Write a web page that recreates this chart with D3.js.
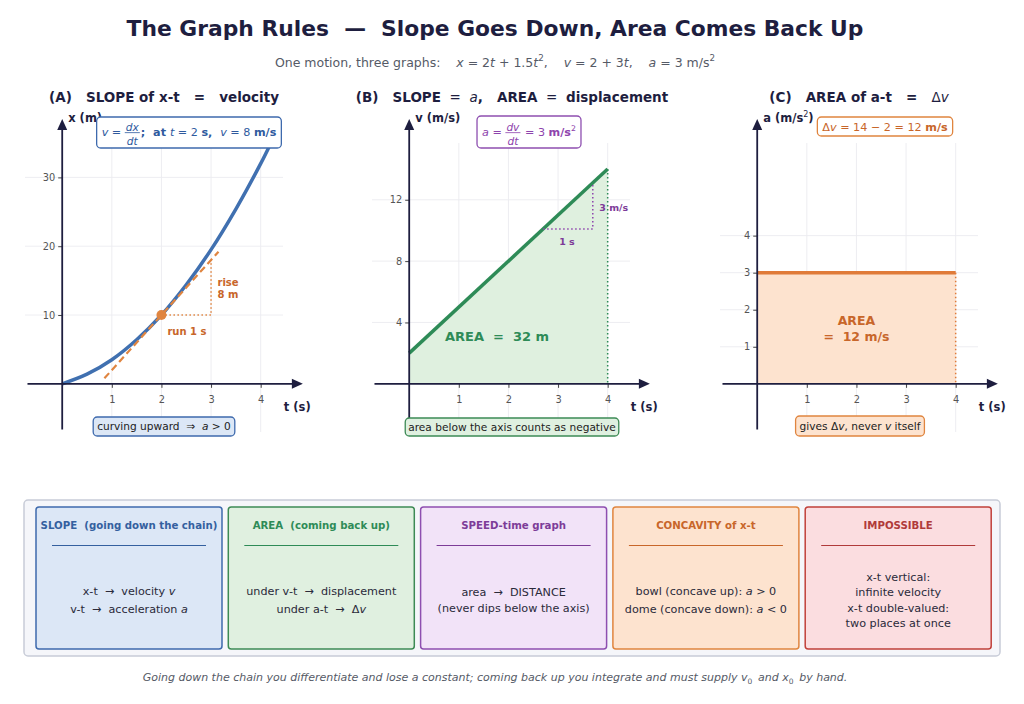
<!DOCTYPE html>
<html lang="en">
<head>
<meta charset="UTF-8">
<title>The Graph Rules</title>
<script src="https://cdn.jsdelivr.net/npm/d3@7"></script>
<style>
  body { margin: 0; background: #fff; }
  svg text { font-family: "DejaVu Sans", sans-serif; white-space: pre; }
</style>
</head>
<body>
<script>
// ---- data ----
const tCurve = [0, 0.5, 1, 1.5, 2, 2.5, 3, 3.5, 4, 4.2];
const xCurve = [0, 1.4, 3.5, 6.4, 10, 14.4, 19.5, 25.4, 32, 34.9];
const tangentT = [0.85, 3.15];
const tangentX = [0.8, 19.2];
const tangentPoint = [2, 10];
const runT = [2, 3, 3];
const runX = [10, 10, 18];

const tLine = [0, 4];
const vLine = [2, 14];
const triT = [2.7, 3.7, 3.7];
const triV = [10.1, 10.1, 13.1];

const aLine = [3, 3];

const tTicks = [1, 2, 3, 4];
const xTicksA = [10, 20, 30];
const vTicksB = [4, 8, 12];
const aTicksC = [1, 2, 3, 4];

const cards = [
  { head: "SLOPE  (going down the chain)", fill: "#dce7f6", stroke: "#3e6aad", color: "#34609f",
    lines: [[["x-t  →  velocity "], ["v", "i"]], [["v-t  →  acceleration "], ["a", "i"]]] },
  { head: "AREA  (coming back up)", fill: "#e0f0e0", stroke: "#3d8a55", color: "#2e8b57",
    lines: [[["under v-t  →  displacement"]], [["under a-t  →  "], ["Δ"], ["v", "i"]]] },
  { head: "SPEED-time graph", fill: "#f2e3f8", stroke: "#8e4fb0", color: "#7d3c98",
    lines: [[["area  →  DISTANCE"]], [["(never dips below the axis)"]]] },
  { head: "CONCAVITY of x-t", fill: "#fde3cf", stroke: "#e0853f", color: "#c8662a",
    lines: [[["bowl (concave up): "], ["a", "i"], [" > 0"]], [["dome (concave down): "], ["a", "i"], [" < 0"]]] },
  { head: "IMPOSSIBLE", fill: "#fbdde0", stroke: "#c0403a", color: "#b03a3a",
    lines: [[["x-t vertical:"]], [["infinite velocity"]], [["x-t double-valued:"]], [["two places at once"]]] }
];

const navy = "#1e1e3f";
const width = 1024, height = 704;

const svg = d3.select("body").append("svg")
  .attr("width", width).attr("height", height)
  .attr("viewBox", [0, 0, width, height]);

// small helper for inline math-ish labels; parts: {s, i, b, sup} or {num, den}
function mathLabel(g, parts, fs, color) {
  let x = 0;
  parts.forEach(p => {
    if (p.num) {
      const n = g.append("text").attr("font-size", fs * 0.95).attr("font-style", "italic")
        .attr("fill", color).attr("text-anchor", "middle").attr("y", -fs * 0.42).text(p.num);
      const d = g.append("text").attr("font-size", fs * 0.95).attr("font-style", "italic")
        .attr("fill", color).attr("text-anchor", "middle").attr("y", fs * 0.8).text(p.den);
      const w = Math.max(n.node().getComputedTextLength(), d.node().getComputedTextLength()) + 2;
      n.attr("x", x + w / 2); d.attr("x", x + w / 2);
      g.append("line").attr("x1", x).attr("x2", x + w)
        .attr("y1", -fs * 0.3).attr("y2", -fs * 0.3).attr("stroke", color).attr("stroke-width", 0.8);
      x += w + 1;
    } else {
      const t = g.append("text").attr("x", x).attr("font-size", p.sup ? fs * 0.7 : fs)
        .attr("y", p.sup ? -fs * 0.45 : 0)
        .attr("fill", color)
        .attr("font-style", p.i ? "italic" : "normal")
        .attr("font-weight", p.b ? "bold" : "normal")
        .text(p.s);
      x += t.node().getComputedTextLength();
    }
  });
  g.selectAll("*").attr("transform", `translate(${-x / 2},0)`);
  return x;
}

function labelBox(parent, cx, cy, parts, opt) {
  const g = parent.append("g").attr("transform", `translate(${cx},${cy})`);
  const rect = g.append("rect");
  const inner = g.append("g");
  const w = mathLabel(inner, parts, opt.fs, opt.color);
  rect.attr("x", -w / 2 - opt.padX).attr("width", w + 2 * opt.padX)
    .attr("y", opt.top).attr("height", opt.h)
    .attr("rx", 4).attr("fill", opt.fill).attr("stroke", opt.stroke).attr("stroke-width", 1.3);
}

// ---- title ----
svg.append("text").attr("x", 495).attr("y", 36).attr("text-anchor", "middle")
  .attr("font-size", 21.8).attr("font-weight", "bold").attr("fill", navy)
  .text("The Graph Rules  —  Slope Goes Down, Area Comes Back Up");

const sub = svg.append("g").attr("transform", "translate(495,67)");
mathLabel(sub, [
  { s: "One motion, three graphs:    " },
  { s: "x", i: 1 }, { s: " = 2" }, { s: "t", i: 1 }, { s: " + 1.5" }, { s: "t", i: 1 }, { s: "2", sup: 1 },
  { s: ",    " }, { s: "v", i: 1 }, { s: " = 2 + 3" }, { s: "t", i: 1 },
  { s: ",    " }, { s: "a", i: 1 }, { s: " = 3 m/s" }, { s: "2", sup: 1 }
], 12.5, "#555a66");

// ---- panels ----
function makePanel(left, yTop, yTicks) {
  const g = svg.append("g");
  const x = d3.scaleLinear().domain([-0.75, 4.45]).range([left, left + 258]);
  const y = d3.scaleLinear().domain([-0.2 * yTop, yTop]).range([432, 143]);

  // grid
  g.append("g").selectAll("line").data(tTicks).join("line")
    .attr("x1", d => x(d)).attr("x2", d => x(d)).attr("y1", y.range()[1]).attr("y2", y.range()[0])
    .attr("stroke", "#ebebef").attr("stroke-width", 0.9);
  g.append("g").selectAll("line").data(yTicks).join("line")
    .attr("x1", x.range()[0]).attr("x2", x.range()[1]).attr("y1", d => y(d)).attr("y2", d => y(d))
    .attr("stroke", "#ebebef").attr("stroke-width", 0.9);
  return { g, x, y, yTop, yTicks };
}

function drawAxes(p, yLabel, yLabelSup) {
  const { g, x, y, yTop, yTicks } = p;
  const xa = g.append("g").attr("transform", `translate(0,${y(0)})`)
    .call(d3.axisBottom(x).tickValues(tTicks).tickSize(4).tickPadding(8).tickFormat(d3.format("d")));
  const ya = g.append("g").attr("transform", `translate(${x(0)},0)`)
    .call(d3.axisLeft(y).tickValues(yTicks).tickSize(4).tickPadding(3).tickFormat(d3.format("d")));
  [xa, ya].forEach(a => {
    a.select(".domain").remove();
    a.selectAll(".tick line").attr("stroke", "#444");
    a.selectAll(".tick text").attr("fill", "#555").attr("font-size", 9.8)
      .attr("font-family", "DejaVu Sans, sans-serif");
  });
  // arrows
  const x0 = x(-0.7), x1 = x(4.85), yb = y(-0.19 * yTop), yt = y(1.1 * yTop);
  g.append("line").attr("x1", x0).attr("x2", x1 - 8).attr("y1", y(0)).attr("y2", y(0))
    .attr("stroke", navy).attr("stroke-width", 1.8);
  g.append("path").attr("d", `M${x1},${y(0)} L${x1 - 11},${y(0) - 5} L${x1 - 11},${y(0) + 5} Z`).attr("fill", navy);
  g.append("line").attr("x1", x(0)).attr("x2", x(0)).attr("y1", yb).attr("y2", yt + 8)
    .attr("stroke", navy).attr("stroke-width", 1.8);
  g.append("path").attr("d", `M${x(0)},${yt} L${x(0) - 5},${yt + 11} L${x(0) + 5},${yt + 11} Z`).attr("fill", navy);

  g.append("text").attr("x", x1 - 19).attr("y", y(0) + 27).attr("font-size", 11.5)
    .attr("font-weight", "bold").attr("fill", navy).text("t (s)");
  const yl = g.append("text").attr("x", x(0) + 6).attr("y", yt + 3).attr("font-size", 11.5)
    .attr("font-weight", "bold").attr("fill", navy).text(yLabel);
  if (yLabelSup) {
    yl.text(yLabel + "(m/s");
    yl.append("tspan").attr("font-size", 8).attr("font-weight", "normal").attr("dy", -5).text("2");
    yl.append("tspan").attr("dy", 5).text(")");
  }
}

function panelTitle(cx, parts) {
  const g = svg.append("g").attr("transform", `translate(${cx},102)`);
  mathLabel(g, parts, 13.5, navy);
}

// (A) x-t
const A = makePanel(25, 35, xTicksA);
const ptsA = tCurve.map((t, i) => [t, xCurve[i]]);
A.g.append("path").datum(ptsA)
  .attr("d", d3.line().x(d => A.x(d[0])).y(d => A.y(d[1])).curve(d3.curveCatmullRom))
  .attr("fill", "none").attr("stroke", "#4070b0").attr("stroke-width", 3.5);
A.g.append("path").datum(tangentT.map((t, i) => [t, tangentX[i]]))
  .attr("d", d3.line().x(d => A.x(d[0])).y(d => A.y(d[1])))
  .attr("stroke", "#e08540").attr("stroke-width", 2.2).attr("stroke-dasharray", "7,4");
A.g.append("path").datum(runT.map((t, i) => [t, runX[i]]))
  .attr("d", d3.line().x(d => A.x(d[0])).y(d => A.y(d[1])))
  .attr("fill", "none").attr("stroke", "#e08540").attr("stroke-width", 1.5).attr("stroke-dasharray", "1.5,2.5");
A.g.append("circle").attr("cx", A.x(tangentPoint[0])).attr("cy", A.y(tangentPoint[1])).attr("r", 5)
  .attr("fill", "#e08540");
A.g.append("text").attr("x", A.x(2.12)).attr("y", A.y(7.6)).attr("dy", "0.35em")
  .attr("font-size", 10).attr("font-weight", "bold").attr("fill", "#c8662a").text("run 1 s");
A.g.append("text").attr("x", A.x(3.13)).attr("y", A.y(14.7)).attr("dy", "0.35em")
  .attr("font-size", 10).attr("font-weight", "bold").attr("fill", "#c8662a").text("rise");
A.g.append("text").attr("x", A.x(3.13)).attr("y", A.y(13.0)).attr("dy", "0.35em")
  .attr("font-size", 10).attr("font-weight", "bold").attr("fill", "#c8662a").text("8 m");
drawAxes(A, "x (m)");
labelBox(svg, 189, 136, [
  { s: "v", i: 1 }, { s: " = " }, { num: "dx", den: "dt" }, { s: ";  at ", b: 1 }, { s: "t", i: 1 },
  { s: " = 2 " }, { s: "s,  ", b: 1 }, { s: "v", i: 1 }, { s: " = 8 " }, { s: "m/s", b: 1 }
], { fs: 11.2, color: "#2f5a9e", fill: "#fff", stroke: "#3e6aad", padX: 5, top: -19, h: 31 });
labelBox(svg, 164, 430, [
  { s: "curving upward  ⇒  " }, { s: "a", i: 1 }, { s: " > 0" }
], { fs: 10.6, color: "#222", fill: "#dce7f6", stroke: "#3e6aad", padX: 4, top: -13, h: 19 });
panelTitle(164, [{ s: "(A)   SLOPE of x-t   =   velocity", b: 1 }]);

// (B) v-t
const B = makePanel(372, 15.7, vTicksB);
const ptsB = tLine.map((t, i) => [t, vLine[i]]);
B.g.append("path").datum(ptsB)
  .attr("d", d3.area().x(d => B.x(d[0])).y0(B.y(0)).y1(d => B.y(d[1])))
  .attr("fill", "#dff0df");
B.g.append("line").attr("x1", B.x(tLine[1])).attr("x2", B.x(tLine[1]))
  .attr("y1", B.y(vLine[1])).attr("y2", B.y(0))
  .attr("stroke", "#2e8b57").attr("stroke-width", 1.5).attr("stroke-dasharray", "1.5,2.5");
B.g.append("path").datum(ptsB)
  .attr("d", d3.line().x(d => B.x(d[0])).y(d => B.y(d[1])))
  .attr("stroke", "#2e8b57").attr("stroke-width", 3.5);
B.g.append("path").datum(triT.map((t, i) => [t, triV[i]]))
  .attr("d", d3.line().x(d => B.x(d[0])).y(d => B.y(d[1])))
  .attr("fill", "none").attr("stroke", "#8e44ad").attr("stroke-width", 1.5).attr("stroke-dasharray", "1.5,2.5");
B.g.append("text").attr("x", B.x(3.18)).attr("y", B.y(9.25)).attr("dy", "0.35em").attr("text-anchor", "middle")
  .attr("font-size", 9.5).attr("font-weight", "bold").attr("fill", "#7d3c98").text("1 s");
B.g.append("text").attr("x", B.x(3.83)).attr("y", B.y(11.5)).attr("dy", "0.35em")
  .attr("font-size", 9.5).attr("font-weight", "bold").attr("fill", "#7d3c98").text("3 m/s");
B.g.append("text").attr("x", B.x(1.77)).attr("y", B.y(3.1)).attr("dy", "0.35em").attr("text-anchor", "middle")
  .attr("font-size", 13).attr("font-weight", "bold").attr("fill", "#2e8b57").text("AREA  =  32 m");
drawAxes(B, "v (m/s)");
labelBox(svg, 529, 136, [
  { s: "a", i: 1 }, { s: " = " }, { num: "dv", den: "dt" }, { s: " = 3 " }, { s: "m/s", b: 1 }, { s: "2", sup: 1 }
], { fs: 11.2, color: "#8e44ad", fill: "#fff", stroke: "#8e4fb0", padX: 5, top: -20, h: 32 });
labelBox(svg, 512, 431, [{ s: "area below the axis counts as negative" }],
  { fs: 10.6, color: "#222", fill: "#dff0e0", stroke: "#3d8a55", padX: 3, top: -13, h: 18 });
panelTitle(512, [{ s: "(B)   SLOPE", b: 1 }, { s: "  =  " }, { s: "a", i: 1 }, { s: ",   AREA", b: 1 },
  { s: "  =  " }, { s: "displacement", b: 1 }]);

// (C) a-t
const C = makePanel(720, 6.5, aTicksC);
const ptsC = tLine.map((t, i) => [t, aLine[i]]);
C.g.append("path").datum(ptsC)
  .attr("d", d3.area().x(d => C.x(d[0])).y0(C.y(0)).y1(d => C.y(d[1])))
  .attr("fill", "#fde3cf");
C.g.append("line").attr("x1", C.x(tLine[1])).attr("x2", C.x(tLine[1]))
  .attr("y1", C.y(aLine[1])).attr("y2", C.y(0))
  .attr("stroke", "#e07b39").attr("stroke-width", 1.5).attr("stroke-dasharray", "1.5,2.5");
C.g.append("path").datum(ptsC)
  .attr("d", d3.line().x(d => C.x(d[0])).y(d => C.y(d[1])))
  .attr("stroke", "#e07b39").attr("stroke-width", 3.5);
C.g.append("text").attr("x", C.x(2)).attr("y", C.y(1.7)).attr("dy", "0.35em").attr("text-anchor", "middle")
  .attr("font-size", 12.5).attr("font-weight", "bold").attr("fill", "#c8662a").text("AREA");
C.g.append("text").attr("x", C.x(2)).attr("y", C.y(1.27)).attr("dy", "0.35em").attr("text-anchor", "middle")
  .attr("font-size", 12.5).attr("font-weight", "bold").attr("fill", "#c8662a").text("=  12 m/s");
drawAxes(C, "a ", true);
labelBox(svg, 885, 131, [
  { s: "Δ" }, { s: "v", i: 1 }, { s: " = 14 − 2 = 12 " }, { s: "m/s", b: 1 }
], { fs: 11.2, color: "#c8662a", fill: "#fff", stroke: "#e0853f", padX: 5, top: -14, h: 19 });
labelBox(svg, 860, 430, [
  { s: "gives Δ" }, { s: "v", i: 1 }, { s: ", never " }, { s: "v", i: 1 }, { s: " itself" }
], { fs: 10.6, color: "#222", fill: "#fde3cf", stroke: "#e0853f", padX: 4, top: -14, h: 20 });
panelTitle(859, [{ s: "(C)   AREA of a-t   =   ", b: 1 }, { s: "Δ" }, { s: "v", i: 1 }]);

// ---- summary cards ----
svg.append("rect").attr("x", 24).attr("y", 500).attr("width", 976).attr("height", 156).attr("rx", 4)
  .attr("fill", "#f5f6fa").attr("stroke", "#c8ccd8").attr("stroke-width", 1.5);

const cardX = d3.scaleBand().domain(d3.range(cards.length)).range([36, 1000]);
cards.forEach((c, i) => {
  const x0 = cardX(i) - i * 0.5, w = 186, cx = x0 + w / 2;
  svg.append("rect").attr("x", x0).attr("y", 507).attr("width", w).attr("height", 142).attr("rx", 3)
    .attr("fill", c.fill).attr("stroke", c.stroke).attr("stroke-width", 1.5);
  svg.append("text").attr("x", cx).attr("y", 529).attr("text-anchor", "middle")
    .attr("font-size", 10.2).attr("font-weight", "bold").attr("fill", c.color).text(c.head);
  svg.append("line").attr("x1", cx - 77).attr("x2", cx + 77).attr("y1", 545.5).attr("y2", 545.5)
    .attr("stroke", c.color).attr("stroke-width", 1.2);
  const step = c.lines.length > 2 ? 15.3 : (i === 2 ? 15.5 : 18.5);
  const mid = 600;
  c.lines.forEach((ln, j) => {
    const y = mid + (j - (c.lines.length - 1) / 2) * step;
    const g = svg.append("g").attr("transform", `translate(${cx},${y + 4})`);
    mathLabel(g, ln.map(([s, st]) => ({ s, i: st === "i" })), 11.2, "#2a2a3a");
  });
});

// ---- footer ----
const foot = svg.append("g").attr("transform", "translate(495,681)");
mathLabel(foot, [
  { s: "Going down the chain you differentiate and lose a constant; coming back up you integrate and must supply v", i: 1 },
  { s: "0" }, { s: " and x", i: 1 }, { s: "0" }, { s: " by hand.", i: 1 }
], 11, "#555a66");
// shrink subscripts in footer
foot.selectAll("text").filter(function () { return this.textContent === "0"; })
  .attr("font-size", 7.5).attr("dy", 2.5);
</script>
</body>
</html>
